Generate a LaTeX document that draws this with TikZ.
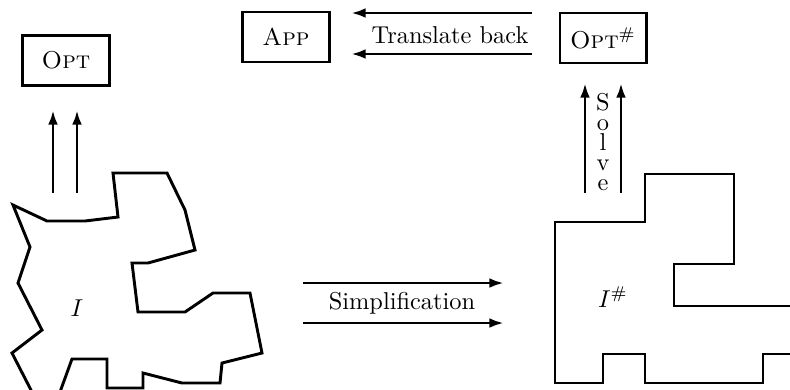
\documentclass[tikz,border=0pt]{standalone}
\usetikzlibrary{arrows.meta}
\begin{document}
\begin{tikzpicture}[x=0.41pt,y=-0.41pt, line width=1.2pt,
  box/.style={draw, minimum width=35.3pt, minimum height=20.5pt, inner sep=0pt},
  arr/.style={-{Latex[length=6pt,width=4pt]}},
  poly/.style={line width=1.2pt, line join=miter}]
\useasboundingbox (0,0) rectangle (790,389);
\clip (0,0) rectangle (790,389);
% boxes
\node[box] (opt) at (66,60.5) {\textsc{Opt}};
\node[box] (app) at (286,37) {\textsc{App}};
\node[box] (opts) at (603,38) {\textsc{Opt}$^{\#}$};
% left polygon
\draw[poly] (13,205) -- (47,221) -- (85,221) -- (118,217) -- (113,173) -- (167,173)
  -- (185,210) -- (195,250) -- (148,263) -- (132,263) -- (138,312) -- (185,312)
  -- (213,293) -- (250,293) -- (262,353) -- (222,363) -- (220,383) -- (182,383)
  -- (143,373) -- (143,388) -- (107,388) -- (107,359) -- (72,359) -- (60,392)
  -- (32,392) -- (12,353) -- (42,330) -- (18,283) -- (30,247) -- cycle;
\node (I) at (77,308) {$I$};
% right polygon
\draw[poly] (555,222) -- (645,222) -- (645,174) -- (734,174) -- (734,264) -- (674,264)
  -- (674,306) -- (800,306) -- (800,354) -- (763,354) -- (763,383) -- (645,383)
  -- (645,354) -- (603,354) -- (603,383) -- (555,383) -- cycle;
\node (Is) at (613,297) {$I^{\#}$};
% Opt arrows
\coordinate (o1) at (53,193);
\coordinate (o2) at (77,193);
\coordinate (o1e) at (53,110);
\coordinate (o2e) at (77,110);
\draw[arr] (o1) -- (o1e);
\draw[arr] (o2) -- (o2e);
% Solve arrows
\coordinate (s1) at (585,193);
\coordinate (s2) at (621,193);
\coordinate (s1e) at (585,83);
\coordinate (s2e) at (621,83);
\draw[arr] (s1) -- (s1e);
\draw[arr] (s2) -- (s2e);
\node[align=center, font=\fontsize{10}{8.2}\selectfont, inner sep=0pt] (solve) at (603,142) {S\\o\\l\\v\\e};
% Translate back arrows
\coordinate (t1) at (532,13);
\coordinate (t2) at (532,54);
\coordinate (t1e) at (351,13);
\coordinate (t2e) at (351,54);
\draw[arr] (t1) -- (t1e);
\draw[arr] (t2) -- (t2e);
\node (tb) at (450,35) {Translate back};
% Simplification arrows
\coordinate (p1) at (303,283);
\coordinate (p2) at (303,323);
\coordinate (p1e) at (504,283);
\coordinate (p2e) at (504,323);
\draw[arr] (p1) -- (p1e);
\draw[arr] (p2) -- (p2e);
\node (simp) at (402,303) {Simplification};
\end{tikzpicture}
\end{document}
